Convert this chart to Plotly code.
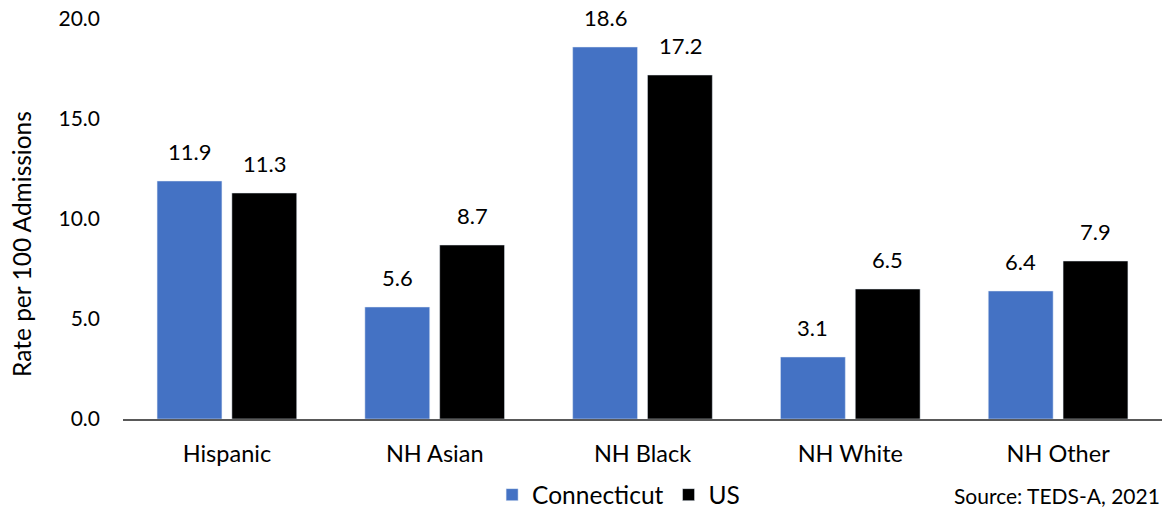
import plotly.graph_objects as go

categories = ["Hispanic", "NH Asian", "NH Black", "NH White", "NH Other"]
connecticut = [11.9, 5.6, 18.6, 3.1, 6.4]
us = [11.3, 8.7, 17.2, 6.5, 7.9]
y_ticks = [0, 5, 10, 15, 20]

FONT = "Lato, 'Open Sans', sans-serif"
BLUE = "#4472C4"
BLACK = "#000000"

fig = go.Figure()
fig.add_trace(go.Bar(name="Connecticut", x=categories, y=connecticut, marker_color=BLUE))
fig.add_trace(go.Bar(name="US", x=categories, y=us, marker_color=BLACK))

# data labels
for vals, shift in ((connecticut, -37.5), (us, 37.5)):
    for c, v in zip(categories, vals):
        fig.add_annotation(x=c, y=v, text=f"{v:.1f}", showarrow=False,
                           xshift=shift, yshift=14, yanchor="bottom",
                           font=dict(family=FONT, size=22, color="#000"))

# y-axis title (placed as annotation to match offset)
fig.add_annotation(xref="paper", yref="paper", x=-0.0982, y=0.4375,
                   xanchor="center", yanchor="middle", textangle=-90,
                   text="Rate per 100 Admissions", showarrow=False,
                   font=dict(family=FONT, size=24.5, color="#000"))

fig.add_annotation(xref="paper", yref="paper", x=1.0, y=-0.19, xanchor="right",
                   yanchor="middle", text="Source: TEDS-A, 2021", showarrow=False,
                   font=dict(family=FONT, size=21, color="#000"))

fig.update_layout(
    width=1163, height=510,
    margin=dict(l=123, r=1, t=19, b=91),
    barmode="group", bargap=0.28, bargroupgap=0.133,
    plot_bgcolor="white", paper_bgcolor="white",
    font=dict(family=FONT, size=22, color="#000"),
    legend=dict(orientation="h", x=0.477, xanchor="center", yref="container",
                y=0.03, yanchor="middle",
                font=dict(family=FONT, size=24.5), itemwidth=30, traceorder="normal"),
    xaxis=dict(showline=True, linecolor="#595959", linewidth=1.5, ticks="",
               tickfont=dict(size=23.5), ticklabelstandoff=13),
    yaxis=dict(range=[0, 20], tickvals=y_ticks, tickformat=".1f", showgrid=False,
               zeroline=False, showline=False, ticklabelstandoff=22,
               tickfont=dict(size=21)),
)

fig.write_html("out.html")
